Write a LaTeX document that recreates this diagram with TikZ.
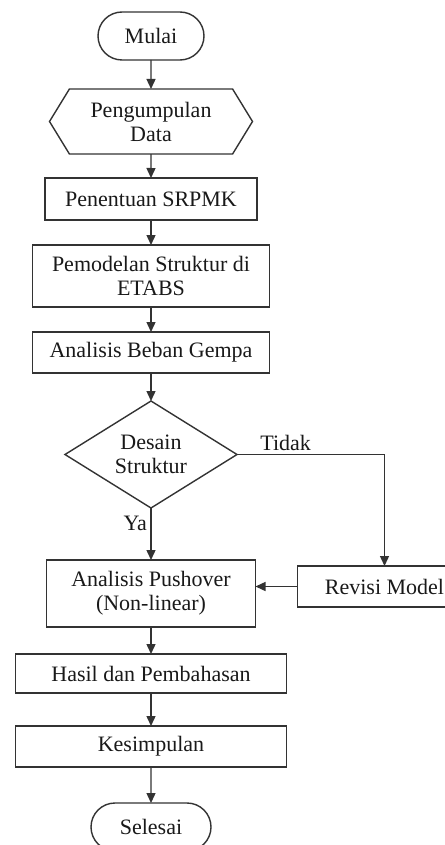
\documentclass[tikz,border=0pt]{standalone}
\usepackage{fontspec}
\setmainfont{Liberation Serif}
\usetikzlibrary{shapes,arrows.meta,positioning}

\begin{document}
\begin{tikzpicture}[
  x=1pt, y=-1pt,
  node distance=25pt,
  base/.style={draw=black!80, line width=1.4pt, text=black!90, font=\fontsize{22}{24}\selectfont, align=center, inner sep=2pt, outer sep=0pt},
  term/.style={base, rounded rectangle, minimum height=48pt},
  datain/.style={base, signal, signal to=west and east, signal pointer angle=117, minimum width=203pt, minimum height=65pt},
  proc/.style={base, rectangle, minimum height=42pt},
  decide/.style={base, diamond, aspect=1.6, minimum width=172pt, minimum height=107pt, inner sep=0pt},
  lbl/.style={font=\fontsize{22}{24}\selectfont, text=black!90},
  arrow/.style={-{Triangle[length=10pt,width=9pt]}, draw=black!80, line width=1.4pt}
]
\useasboundingbox (0,0) rectangle (444,845);

% Start and input
\node[term, minimum width=110pt] (mulai) at (151,36) {Mulai};
\node[datain, below=29pt of mulai] (data) {Pengumpulan\\Data};

% Modelling steps
\node[proc, minimum width=212pt, below=24pt of data] (srpmk) {Penentuan SRPMK};
\node[proc, minimum width=237pt, minimum height=62pt, below=25pt of srpmk] (model) {Pemodelan Struktur di\\ETABS};
\node[proc, minimum width=237pt, minimum height=41pt, below=25pt of model] (gempa) {Analisis Beban Gempa};

% Decision
\node[decide, below=28pt of gempa] (desain) {Desain\\Struktur};

% Analysis and revision
\node[proc, minimum width=209pt, minimum height=67pt, below=52pt of desain] (pushover) {Analisis Pushover\\(Non-linear)};
\node[proc, minimum width=174pt, minimum height=41pt, right=42pt of pushover, yshift=7pt] (revisi) {Revisi Model};

% Results and end
\node[proc, minimum width=271pt, minimum height=39pt, below=27pt of pushover] (hasil) {Hasil dan Pembahasan};
\node[proc, minimum width=271pt, minimum height=41pt, below=33pt of hasil] (simpul) {Kesimpulan};
\node[term, minimum width=124pt, below=36pt of simpul] (selesai) {Selesai};

% Arrows
\draw[arrow] (mulai) -- (data);
\draw[arrow] (data) -- (srpmk);
\draw[arrow] (srpmk) -- (model);
\draw[arrow] (model) -- (gempa);
\draw[arrow] (gempa) -- (desain);
\draw[arrow] (desain) -- node[lbl, left, pos=0.3] {Ya} (pushover);
\draw[arrow] (desain.east) -- node[lbl, above, pos=0.33] {Tidak} (desain.east -| revisi) -- (revisi);
\draw[arrow] (revisi.west) -- (revisi.west -| pushover.east);
\draw[arrow] (pushover) -- (hasil);
\draw[arrow] (hasil) -- (simpul);
\draw[arrow] (simpul) -- (selesai);

\end{tikzpicture}
\end{document}
